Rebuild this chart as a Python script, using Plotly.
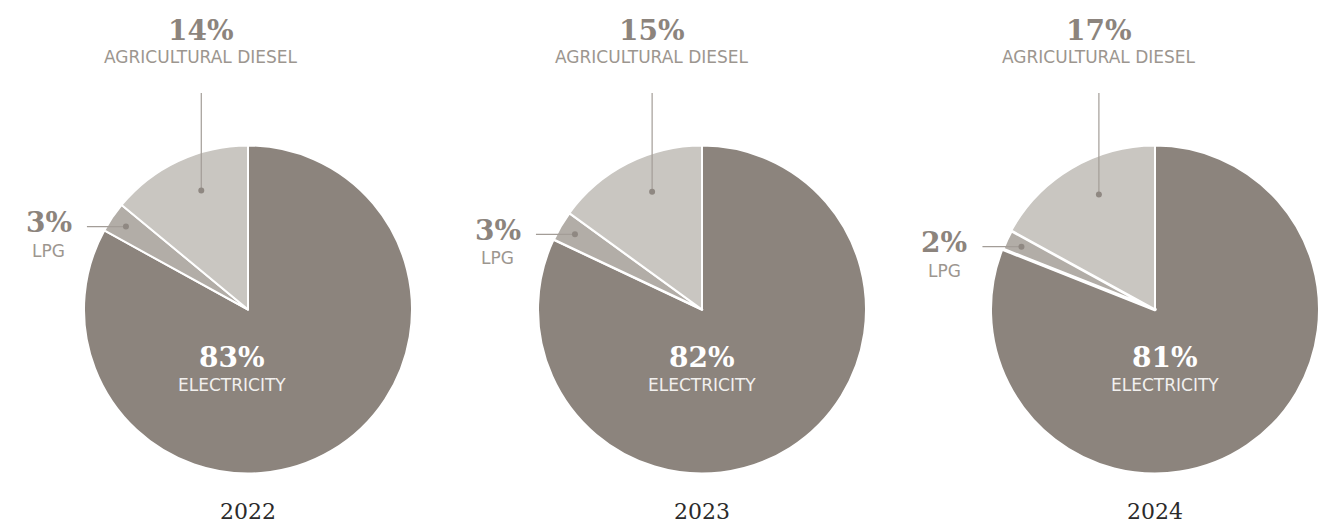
import math
import plotly.graph_objects as go

# ---- data ----
years = ["2022", "2023", "2024"]
categories = ["ELECTRICITY", "LPG", "AGRICULTURAL DIESEL"]
electricity = [83, 82, 81]
lpg = [3, 3, 2]
diesel = [14, 15, 17]

# ---- style / layout ----
W, H = 1329, 525
centers_x = [248, 702, 1155]
cy = 309.5
R = 164
slice_colors = ["#8c847d", "#b2ada7", "#c9c6c1"]
border_w = [[2, 2, 2], [2, 2.5, 2], [2, 3.5, 2]]
elec_dx = [-16, 0, 10]
pct_color = "#8c847d"
lab_color = "#9c968f"
line_color = "#a39d97"
dot_color = "#8f8882"
PCT_FONT = "DejaVu Serif"
LAB_FONT = "DejaVu Sans"
LAB_SIZE = 17

fig = go.Figure()


def px(x):
    return x / W


def py(y):
    return 1 - y / H


def polar(cx, frac, r):
    th = 2 * math.pi * frac
    return cx + r * math.sin(th), cy - r * math.cos(th)


annotations = []
shapes = []

for i, year in enumerate(years):
    cx = centers_x[i]
    vals = [electricity[i], lpg[i], diesel[i]]
    total = sum(vals)
    fig.add_trace(go.Pie(
        values=vals,
        labels=categories,
        sort=False,
        direction="clockwise",
        rotation=0,
        textinfo="none",
        hoverinfo="label+percent",
        showlegend=False,
        marker=dict(colors=slice_colors, line=dict(color="white", width=border_w[i])),
        domain=dict(x=[px(cx - R), px(cx + R)], y=[py(cy + R), py(cy - R)]),
    ))

    # electricity label (inside)
    ex = cx + elec_dx[i]
    annotations.append(dict(x=px(ex), y=py(357), text=f"<b>{electricity[i]}%</b>",
                            font=dict(family=PCT_FONT, size=28, color="white")))
    annotations.append(dict(x=px(ex), y=py(385), text=categories[0],
                            font=dict(family=LAB_FONT, size=LAB_SIZE, color="#f2f0ee")))

    # LPG label (left, horizontal leader)
    lfrac = (electricity[i] + lpg[i] / 2) / total
    lx, ly = polar(cx, lfrac, 0.9 * R)
    shapes.append(dict(type="line", x0=px(lx - 39), x1=px(lx), y0=py(ly), y1=py(ly),
                       line=dict(color=line_color, width=1.2)))
    shapes.append(dict(type="circle", x0=px(lx - 3), x1=px(lx + 3), y0=py(ly + 3), y1=py(ly - 3),
                       fillcolor=dot_color, line=dict(width=0)))
    annotations.append(dict(x=px(lx - 77), y=py(ly - 4), text=f"<b>{lpg[i]}%</b>",
                            font=dict(family=PCT_FONT, size=28, color=pct_color)))
    annotations.append(dict(x=px(lx - 77), y=py(ly + 24), text=categories[1],
                            font=dict(family=LAB_FONT, size=LAB_SIZE, color=lab_color)))

    # diesel label (top, vertical leader)
    dfrac = 1 - 0.85 * (diesel[i] / 2) / total
    dx_, dy_ = polar(cx, dfrac, 0.78 * R)
    shapes.append(dict(type="line", x0=px(dx_), x1=px(dx_), y0=py(93), y1=py(dy_),
                       line=dict(color=line_color, width=1.2)))
    shapes.append(dict(type="circle", x0=px(dx_ - 3), x1=px(dx_ + 3), y0=py(dy_ + 3), y1=py(dy_ - 3),
                       fillcolor=dot_color, line=dict(width=0)))
    annotations.append(dict(x=px(dx_), y=py(30), text=f"<b>{diesel[i]}%</b>",
                            font=dict(family=PCT_FONT, size=28, color=pct_color)))
    annotations.append(dict(x=px(dx_), y=py(57), text=categories[2],
                            font=dict(family=LAB_FONT, size=LAB_SIZE, color=lab_color)))

    # year
    annotations.append(dict(x=px(cx), y=py(511), text=year,
                            font=dict(family=PCT_FONT, size=22, color="#2b2b2b")))

for a in annotations:
    a.update(xref="paper", yref="paper", showarrow=False, xanchor="center", yanchor="middle")
for s in shapes:
    s.update(xref="paper", yref="paper", layer="above")

fig.update_layout(
    width=W, height=H,
    margin=dict(l=0, r=0, t=0, b=0),
    paper_bgcolor="white",
    plot_bgcolor="white",
    annotations=annotations,
    shapes=shapes,
)

fig.write_html("out.html", config={"displayModeBar": False},
               post_script="document.body.style.margin='0';document.body.style.overflow='hidden';")
